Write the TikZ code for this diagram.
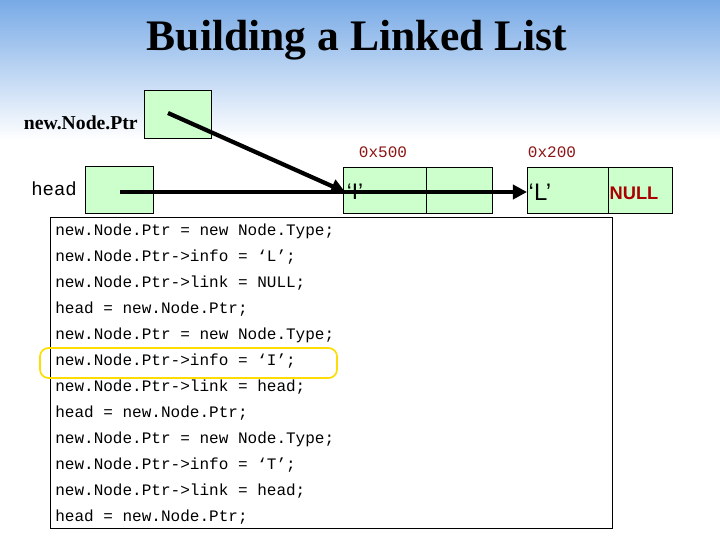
\documentclass[tikz,border=0pt]{standalone}
\usepackage{fontspec}
\setmainfont{Liberation Serif}
\setsansfont{Liberation Sans}
\setmonofont{Liberation Mono}
\usetikzlibrary{arrows.meta}
\definecolor{boxgreen}{RGB}{204,255,204}
\definecolor{skyblue}{RGB}{120,170,230}
\definecolor{addrred}{RGB}{140,20,20}
\definecolor{nullred}{RGB}{170,0,0}
\tikzset{
    cell/.style={draw, fill=boxgreen, line width=0.5pt},
    code/.style={anchor=west, font=\ttfamily\fontsize{11.4}{12}\selectfont, inner sep=0pt},
    addr/.style={font=\ttfamily\fontsize{11.4}{12}\selectfont, text=addrred},
    ptr/.style={line width=3pt, -{Triangle[length=10pt,width=10pt]}}
}
\begin{document}
\begin{tikzpicture}[x=0.025cm, y=-0.025cm]
    \useasboundingbox (0,0) rectangle (720,540);
    \shade[top color=skyblue, bottom color=white] (0,0) rectangle (720,140);
    \node (title) at (357,40) {\bfseries\fontsize{31}{34}\selectfont Building a Linked List};
    % pointer variables
    \node[anchor=east, inner sep=0pt] (nplabel) at (138,123) {\bfseries\fontsize{14}{16}\selectfont new.Node.Ptr};
    \draw[cell] (144,90) rectangle (211,138);
    \coordinate (npstart) at (168,113);
    \node[anchor=west, inner sep=0pt] (headlabel) at (31,189) {\ttfamily\fontsize{13.5}{15}\selectfont head};
    \draw[cell] (85,166) rectangle (153,213);
    \coordinate (headstart) at (120,192);
    % list nodes
    \draw[cell] (343,167) rectangle (426,213);
    \draw[cell] (426,167) rectangle (492,213);
    \draw[cell] (527,167) rectangle (608,213);
    \draw[cell] (608,167) rectangle (672,213);
    \node[addr] (addr1) at (383,152) {0x500};
    \node[addr] (addr2) at (552,152) {0x200};
    \node[inner sep=1pt] (info1) at (355,192) {\sffamily\fontsize{16}{18}\selectfont ‘I’};
    \node[inner sep=1pt] (info2) at (540,192) {\sffamily\fontsize{17}{18}\selectfont ‘L’};
    \node (link2) at (634,193) {\sffamily\bfseries\fontsize{13}{15}\selectfont\color{nullred}NULL};
    % code box
    \draw[fill=white] (50,217) rectangle (612,528);
    \draw[yellow!80!orange, line width=1.2pt, rounded corners=6pt] (40,348) rectangle (337,378);
    \foreach \i/\txt in {0/{new.Node.Ptr = new Node.Type;},
                        1/{new.Node.Ptr->info = ‘L’;},
                        2/{new.Node.Ptr->link = NULL;},
                        3/{head = new.Node.Ptr;},
                        4/{new.Node.Ptr = new Node.Type;},
                        5/{new.Node.Ptr->info = ‘I’;},
                        6/{new.Node.Ptr->link = head;},
                        7/{head = new.Node.Ptr;},
                        8/{new.Node.Ptr = new Node.Type;},
                        9/{new.Node.Ptr->info = ‘T’;},
                        10/{new.Node.Ptr->link = head;},
                        11/{head = new.Node.Ptr;}}
        \node[code] (line\i) at (55,231+26*\i) {\txt};
    % pointers
    \draw[ptr] (npstart) -- (info1.west);
    \draw[ptr] (headstart) -- (info2.west);
\end{tikzpicture}
\end{document}
